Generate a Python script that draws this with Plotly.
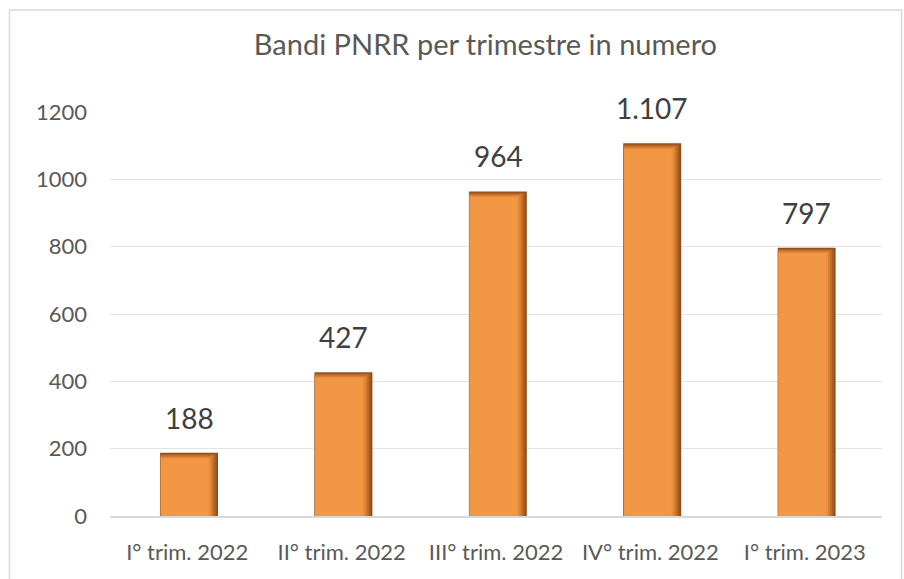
import plotly.graph_objects as go

# Quarterly counts of PNRR calls
categories = ["I° trim. 2022", "II° trim. 2022", "III° trim. 2022", "IV° trim. 2022", "I° trim. 2023"]
values = [188, 427, 964, 1107, 797]
y_ticks = [0, 200, 400, 600, 800, 1000, 1200]


def it_format(n):
    # Italian thousands separator
    return f"{n:,}".replace(",", ".")


labels = [it_format(v) for v in values]

BAR_W = 0.375
BAR_SHIFT = 0.012
FONT = "Lato, 'Open Sans', sans-serif"

fig = go.Figure()

# Bevelled bars: stacked layers from a dark brown rim to the orange face
shades = ["#8e4f1c", "#a95e24", "#c26e2c", "#d98035", "#e98e3d", "#f29744"]
for i, col in enumerate(shades):
    fig.add_trace(go.Bar(
        x=categories, y=[v - 3.5 * i for v in values],
        width=BAR_W - 0.0135 * i, offset=-BAR_W / 2 + BAR_SHIFT + 0.0012 * i,
        marker=dict(color=col, line=dict(width=0)),
        hoverinfo="skip" if i < len(shades) - 1 else None, showlegend=False,
    ))

for c, v, t in zip(categories, values, labels):
    fig.add_annotation(
        x=c, y=v, text=t, showarrow=False, yanchor="bottom", yshift=16, xshift=2,
        font=dict(family=FONT, size=28, color="#404040"),
    )

# Light frame around the chart
fig.add_shape(
    type="rect", xref="paper", yref="paper",
    x0=-0.1302, x1=1.0253, y0=-0.25, y1=1.2525,
    line=dict(color="#d9d9d9", width=1.5), fillcolor="rgba(0,0,0,0)", layer="below",
)

fig.update_layout(
    width=904, height=579,
    margin=dict(l=110, r=22, t=112, b=63),
    paper_bgcolor="white", plot_bgcolor="white",
    barmode="overlay",
    title=dict(
        text="Bandi PNRR per trimestre in numero",
        x=0.537, xanchor="center", y=0.922, yanchor="middle",
        font=dict(family=FONT, size=29, color="#595959"),
    ),
    xaxis=dict(
        type="category", showgrid=False, showline=True, linecolor="#d9d9d9", linewidth=1.5,
        ticks="", ticklabelstandoff=16,
        tickfont=dict(family=FONT, size=22, color="#595959"),
    ),
    yaxis=dict(
        range=[0, 1200], tickvals=y_ticks, showgrid=True, gridcolor="#e3e3e3", gridwidth=1,
        zeroline=False, showline=False, ticks="", ticklabelstandoff=22,
        tickfont=dict(family=FONT, size=22, color="#595959"),
    ),
    showlegend=False,
)

fig.write_html("out.html")
